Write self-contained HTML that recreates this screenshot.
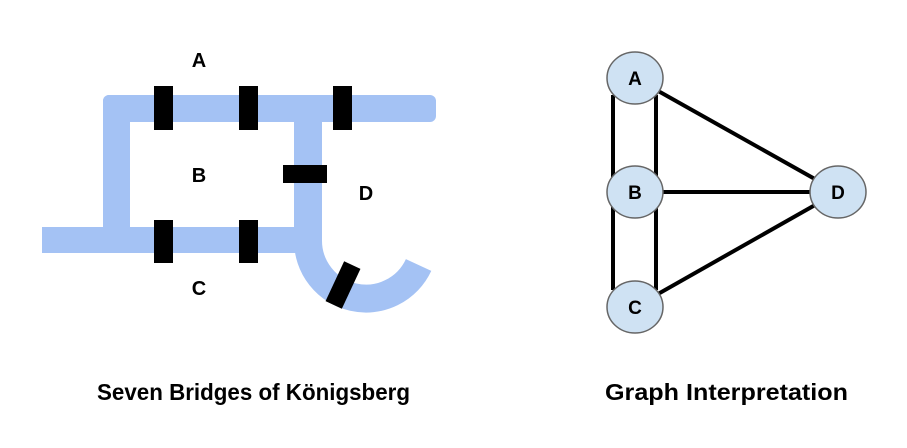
<!DOCTYPE html>
<html><head><style>html,body{margin:0;padding:0;background:#fff}svg{display:block}text{font-family:"Liberation Sans",sans-serif;font-weight:bold;fill:#000}</style></head>
<body>
<svg width="907" height="448" viewBox="0 0 907 448" xmlns="http://www.w3.org/2000/svg">
<g fill="#a4c2f4">
<rect x="103" y="95" width="333" height="27" rx="6"/>
<rect x="103" y="95" width="27" height="158" rx="6"/>
<rect x="42" y="227" width="278" height="26"/>
<rect x="294" y="110" width="28" height="132"/>
</g>
<path d="M308 240 A58 58 0 0 0 418.6 265" fill="none" stroke="#a4c2f4" stroke-width="28"/>
<g fill="#000">
<rect x="154" y="86" width="19" height="44"/>
<rect x="239" y="86" width="19" height="44"/>
<rect x="333" y="86" width="19" height="44"/>
<rect x="154" y="220" width="19" height="43"/>
<rect x="239" y="220" width="19" height="43"/>
<rect x="283" y="165" width="44" height="18"/>
<rect x="-9" y="-22" width="18" height="44" transform="translate(343 285) rotate(25)"/>
</g>
<g font-size="20" text-anchor="middle">
<text x="199" y="67">A</text>
<text x="199" y="182">B</text>
<text x="199" y="295">C</text>
<text x="366" y="200">D</text>
</g>
<g font-size="23">
<text x="97" y="400" textLength="313" lengthAdjust="spacingAndGlyphs">Seven Bridges of Königsberg</text>
<text x="605" y="400" textLength="243" lengthAdjust="spacingAndGlyphs">Graph Interpretation</text>
</g>
<g stroke="#000" stroke-width="4">
<line x1="613" y1="95" x2="613" y2="290"/>
<line x1="656" y1="95" x2="656" y2="290"/>
<line x1="635" y1="78" x2="838" y2="192"/>
<line x1="635" y1="192" x2="838" y2="192"/>
<line x1="635" y1="307" x2="838" y2="192"/>
</g>
<g fill="#cfe2f3" stroke="#666" stroke-width="1.5">
<ellipse cx="635" cy="78" rx="28" ry="26"/>
<ellipse cx="635" cy="192" rx="28" ry="26"/>
<ellipse cx="635" cy="307" rx="28" ry="26"/>
<ellipse cx="838" cy="192" rx="28" ry="26"/>
</g>
<g font-size="19" text-anchor="middle">
<text x="635" y="85">A</text>
<text x="635" y="199">B</text>
<text x="635" y="314">C</text>
<text x="838" y="199">D</text>
</g>
</svg>
</body></html>
